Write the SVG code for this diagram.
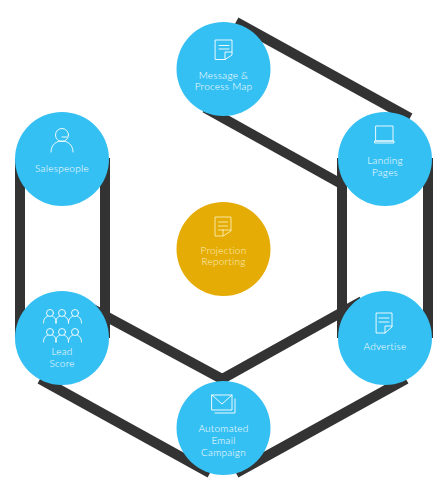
<svg xmlns="http://www.w3.org/2000/svg" width="446" height="491" viewBox="0 0 446 491">
<style>
.c{fill:#35c0f3}
.y{fill:#e5ac05}
.l{stroke:#333;stroke-width:10;fill:none}
.i{stroke:#fff;stroke-width:.9;fill:none;stroke-linejoin:round;stroke-linecap:round}
.iy{stroke:#fbeeb5;stroke-width:.9;fill:none}
text{font-family:"Lato","Liberation Sans",sans-serif;font-weight:300;font-size:10px;fill:#fff;text-anchor:middle;letter-spacing:.25px}
.ty{fill:#fbf0c0}
</style>
<defs>
<g id="person"><circle cx="0" cy="-4" r="3.500"/><path d="M-6.500,6C-6.500,1-4,0-2,-1M6.500,6C6.500,1 4,0 2,-1"/></g>
</defs>
<rect width="446" height="491" fill="#fff"/>
<g id="connectors" class="l">
<path d="M236,22L410,118"/>
<path d="M205,108L345,186"/>
<path d="M20,158V338"/>
<path d="M105,158V338"/>
<path d="M342,158V338"/>
<path d="M428,158V338"/>
<path d="M40,379L210,473"/>
<path d="M85,305L222,379L362,301"/>
<path d="M236,473L406,379"/>
</g>
<g id="message"><circle class="c" cx="223.500" cy="69" r="47"/>
<g class="i"><path d="M215.500,40H232V55L225,59.500H215.500Z M225,59.500V52H232M219,45.500H229M219,49H229"/></g>
<text x="223.500" y="79">Message &amp;</text><text x="223.500" y="90">Process Map</text></g>
<g id="landing"><circle class="c" cx="385" cy="159" r="47"/>
<g class="i"><path d="M376,126H393V141H376Z M375,141H394V143H375Z"/></g>
<text x="385" y="164">Landing</text><text x="385" y="176">Pages</text></g>
<g id="salespeople"><circle class="c" cx="62" cy="159" r="47"/>
<g class="i"><circle cx="62" cy="135" r="6.500"/><path d="M51,152C51,144 57,141 62,141C67,141 73,144 73,152M62,137H67"/></g>
<text x="62" y="172">Salespeople</text></g>
<g id="lead"><circle class="c" cx="62" cy="338" r="47"/>
<g class="i"><use href="#person" x="50" y="317"/><use href="#person" x="62" y="317"/><use href="#person" x="75" y="317"/><use href="#person" x="50" y="336"/><use href="#person" x="62" y="336"/><use href="#person" x="75" y="336"/></g>
<text x="62" y="355">Lead</text><text x="62" y="367">Score</text></g>
<g id="email"><circle class="c" cx="223.500" cy="428" r="47"/>
<g class="i"><path d="M212,395H232V410H212Z M212,395L222,404L232,395M235,399V413H215"/></g>
<text x="223.500" y="432">Automated</text><text x="223.500" y="444">Email</text><text x="223.500" y="456">Campaign</text></g>
<g id="advertise"><circle class="c" cx="385" cy="338" r="47"/>
<g class="i"><path d="M376.500,313H392V327L385,333H376.500Z M385,333V326H392M379,318H389M379,322H389"/></g>
<text x="385" y="350">Advertise</text></g>
<g id="projection"><circle class="y" cx="223.500" cy="249" r="47"/>
<g class="iy"><path d="M215,217H231V231L223,236H215Z M223,236V230H231M218,222H228M218,226H228M218,230H224"/></g>
<text class="ty" x="223.500" y="254">Projection</text><text class="ty" x="223.500" y="265">Reporting</text></g>
</svg>
